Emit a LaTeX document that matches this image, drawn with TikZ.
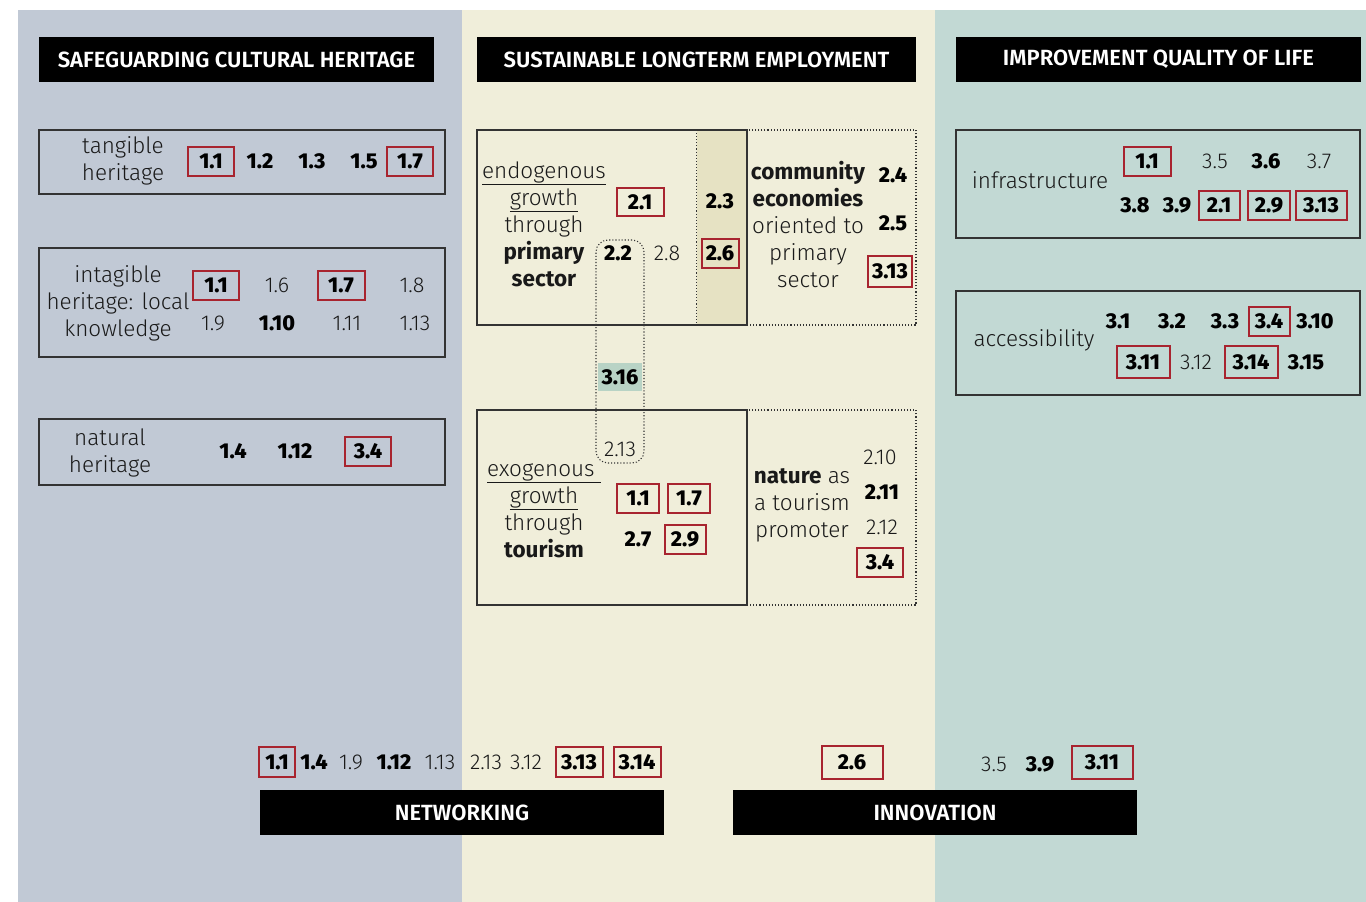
\documentclass[tikz,border=0pt]{standalone}
\usepackage{fontspec}
\setmainfont{Fira Sans}[UprightFont=* Light, BoldFont=* Bold]
\newfontfamily\headfont{Fira Sans SemiBold}
\newfontfamily\numfont{Fira Sans ExtraBold}
\usetikzlibrary{positioning}
\definecolor{HeritageBlue}{HTML}{C1C9D5}
\definecolor{WorkCream}{HTML}{F0EEDA}
\definecolor{LifeMint}{HTML}{C2D9D4}
\definecolor{ColShade}{HTML}{E6E2C3}
\definecolor{MintTag}{HTML}{B8D3C5}
\definecolor{MarkRed}{HTML}{A8242F}
\definecolor{FrameGrey}{HTML}{333333}

\begin{document}
\begin{tikzpicture}[x=1pt, y=-1pt, every node/.style={font=\fontsize{22.5}{27}\selectfont, text=black!90}]
    \tikzstyle{header} = [fill=black, text=white, minimum height=45, inner sep=0, font=\headfont\fontsize{22}{24}\selectfont]
    \tikzstyle{frame} = [draw=FrameGrey, line width=1.1, inner sep=0]
    \tikzstyle{dotframe} = [frame, dotted]
    \tikzstyle{label} = [align=center, inner sep=0]
    \tikzstyle{num} = [inner sep=0, font=\fontsize{21.5}{24}\selectfont]
    \tikzstyle{bnum} = [num, font=\numfont\fontsize{21.5}{24}\selectfont, text=black]
    \tikzstyle{rnum} = [bnum, draw=MarkRed, line width=2, minimum width=46, minimum height=29]
    \tikzstyle{tag} = [bnum, fill=MintTag, minimum width=44, minimum height=28]

    \useasboundingbox (0,0) rectangle (1366,902);
    \fill[white] (0,0) rectangle (1366,902);
    \fill[HeritageBlue] (18,10) rectangle (462,902);
    \fill[WorkCream] (462,10) rectangle (935,902);
    \fill[LifeMint] (935,10) rectangle (1366,902);

    % headers
    \node [header, minimum width=395] (h1) at (236.5,59.5) {SAFEGUARDING CULTURAL HERITAGE};
    \node [header, minimum width=439] (h2) at (696.5,59.5) {SUSTAINABLE LONGTERM EMPLOYMENT};
    \node [header, minimum width=405] (h3) at (1158.5,59.5) {IMPROVEMENT QUALITY OF LIFE};

    % frames
    \node [fill=ColShade, inner sep=0, minimum width=50, minimum height=195] (col) at (722,227.5) {};
    \draw [FrameGrey, dotted, line width=1.1] (col.north west) -- (col.south west);
    \node [frame, minimum width=406, minimum height=64] (tang) at (242,162) {};
    \node [frame, minimum width=406, minimum height=109] (intang) at (242,302.5) {};
    \node [frame, minimum width=406, minimum height=66] (nat) at (242,452) {};
    \node [frame, minimum width=270, minimum height=195] (endo) at (612,227.5) {};
    \node [dotframe, minimum width=169, minimum height=195] (comm) at (831.5,227.5) {};
    \node [frame, minimum width=270, minimum height=195] (exo) at (612,507.5) {};
    \node [dotframe, minimum width=169, minimum height=195] (natu) at (831.5,507.5) {};
    \node [frame, minimum width=404, minimum height=108] (infra) at (1158,184) {};
    \node [frame, minimum width=404, minimum height=104] (access) at (1158,343) {};
    \node [dotframe, rounded corners=12, minimum width=48, minimum height=223] (link) at (620,351.5) {};

    % labels
    \node [label] (tangt) at (123,161) {tangible\\heritage};
    \node [label] (intangt) at (118,303) {intagible\\heritage: local\\knowledge};
    \node [label] (natt) at (110,453) {natural\\heritage};
    \node [label] (endot) at (544,224) {\underline{endogenous}\\\underline{growth}\\through\\\textbf{primary}\\\textbf{sector}};
    \node [label] (commt) at (808,224) {\textbf{community}\\\textbf{economies}\\oriented to\\primary\\sector};
    \node [label] (exot) at (544,510.5) {\underline{exogenous\ }\\\underline{growth}\\through\\\textbf{tourism}};
    \node [label] (natut) at (802,505) {\textbf{nature} as\\a tourism\\promoter};
    \node [label] (infrat) at (1040,180) {infrastructure};
    \node [label] (accesst) at (1034,340) {accessibility};

    % safeguarding cultural heritage
    \node [rnum] (t11) at (211,161) {1.1};
    \node [bnum] (t12) at (260,161) {1.2};
    \node [bnum] (t13) at (312,161) {1.3};
    \node [bnum] (t15) at (364,161) {1.5};
    \node [rnum] (t17) at (410,161) {1.7};
    \node [rnum] (i11) at (216,285) {1.1};
    \node [num] (i16) at (277,285) {1.6};
    \node [rnum, minimum width=47] (i17) at (341,285) {1.7};
    \node [num] (i18) at (412,285) {1.8};
    \node [num] (i19) at (213,323) {1.9};
    \node [bnum] (i110) at (277,323) {1.10};
    \node [num] (i111) at (347,323) {1.11};
    \node [num] (i113) at (415,323) {1.13};
    \node [bnum] (n14) at (233,451) {1.4};
    \node [bnum] (n112) at (295,451) {1.12};
    \node [rnum] (n34) at (368,451) {3.4};

    % sustainable longterm employment
    \node [rnum, minimum width=47, minimum height=28] (e21) at (640,202) {2.1};
    \node [bnum] (e23) at (720,201) {2.3};
    \node [bnum] (e22) at (618,253) {2.2};
    \node [num] (e28) at (667,253) {2.8};
    \node [rnum, minimum width=37] (e26) at (720,253) {2.6};
    \node [bnum] (c24) at (893,175) {2.4};
    \node [bnum] (c25) at (893,223) {2.5};
    \node [rnum, minimum width=44, minimum height=31] (c313) at (890,271) {3.13};
    \node [tag] (l316) at (620,377) {3.16};
    \node [num] (l213) at (620,449) {2.13};
    \node [rnum, minimum width=42] (x11) at (638,498) {1.1};
    \node [rnum, minimum width=42] (x17) at (689,498) {1.7};
    \node [bnum] (x27) at (638,539) {2.7};
    \node [rnum, minimum width=41] (x29) at (685,539) {2.9};
    \node [num] (u210) at (880,457) {2.10};
    \node [bnum] (u211) at (882,492) {2.11};
    \node [num] (u212) at (882,527) {2.12};
    \node [rnum] (u34) at (880,562) {3.4};

    % improvement quality of life
    \node [rnum, minimum width=47] (f11) at (1147,161) {1.1};
    \node [num] (f35) at (1215,161) {3.5};
    \node [bnum] (f36) at (1266,161) {3.6};
    \node [num] (f37) at (1319,161) {3.7};
    \node [bnum] (f38) at (1135,205) {3.8};
    \node [bnum] (f39) at (1177,205) {3.9};
    \node [rnum, minimum width=41] (f21) at (1219,205) {2.1};
    \node [rnum, minimum width=42] (f29) at (1269,205) {2.9};
    \node [rnum, minimum width=51] (f313) at (1321,205) {3.13};
    \node [bnum] (a31) at (1118,321) {3.1};
    \node [bnum] (a32) at (1172,321) {3.2};
    \node [bnum] (a33) at (1225,321) {3.3};
    \node [rnum, minimum width=41] (a34) at (1269,321) {3.4};
    \node [bnum] (a310) at (1315,321) {3.10};
    \node [rnum, minimum width=53, minimum height=32] (a311) at (1143,362) {3.11};
    \node [num] (a312) at (1196,362) {3.12};
    \node [rnum, minimum width=53, minimum height=32] (a314) at (1251,362) {3.14};
    \node [bnum] (a315) at (1306,362) {3.15};

    % networking / innovation
    \node [header, minimum width=404] (net) at (462,812.5) {NETWORKING};
    \node [header, minimum width=404] (inno) at (935,812.5) {INNOVATION};
    \node [rnum, minimum width=36, minimum height=30] (w11) at (277,762) {1.1};
    \node [bnum] (w14) at (314,762) {1.4};
    \node [num] (w19) at (351,762) {1.9};
    \node [bnum] (w112) at (394,762) {1.12};
    \node [num] (w113) at (440,762) {1.13};
    \node [num] (w213) at (486,762) {2.13};
    \node [num] (w312) at (526,762) {3.12};
    \node [rnum, minimum width=47, minimum height=30] (w313) at (579,762) {3.13};
    \node [rnum, minimum width=47, minimum height=30] (w314) at (637,762) {3.14};
    \node [rnum, minimum width=61, minimum height=33] (v26) at (852,762) {2.6};
    \node [num] (v35) at (994,764) {3.5};
    \node [bnum] (v39) at (1040,764) {3.9};
    \node [rnum, minimum width=61, minimum height=33] (v311) at (1102,762) {3.11};
\end{tikzpicture}
\end{document}
